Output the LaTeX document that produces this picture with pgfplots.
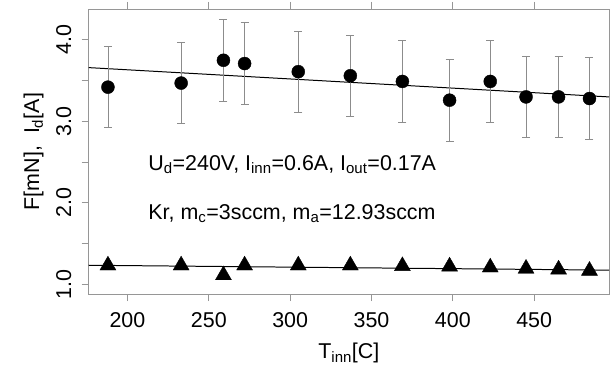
\documentclass[border=0pt]{standalone}
\usepackage{fontspec}
\setmainfont{Liberation Sans}
\usepackage{pgfplots}
\pgfplotsset{compat=1.18}
\definecolor{axgray}{RGB}{150,150,150}
\definecolor{ebgray}{RGB}{140,140,140}
\begin{document}
\begin{tikzpicture}[font=\fontsize{21.5}{25}\selectfont]
\begin{axis}[
 scale only axis, width=520bp, height=285bp,
 xmin=176.2, xmax=496, ymin=0.877, ymax=4.38,
 axis line style={axgray, line width=0.9pt},
 tick style={axgray, line width=0.9pt},
 tick align=outside, major tick length=7bp,
 xtick={200,250,...,450}, ytick={1,1.5,...,4},
 yticklabels={1.0,,2.0,,3.0,,4.0},
 yticklabel style={rotate=90, anchor=south},
 yticklabel shift=7bp,
 xticklabel shift=8bp,
 /pgf/number format/assume math mode=true,
 xlabel={T\textsubscript{inn}[C]},
 ylabel={F[mN],\ \ I\textsubscript{d}[A]},
 xlabel style={at={(axis description cs:0.5,-0.207)}, anchor=center},
 ylabel style={at={(axis description cs:-0.106,0.5)}, anchor=center},
 clip=false,
]
\addplot[black, line width=1pt] coordinates {(176.2,3.66) (496,3.30)};
\addplot[black, line width=1pt] coordinates {(176.2,1.232) (496,1.172)};
\addplot[only marks, mark=*, mark size=6.5bp, black,
  error bars/.cd, y dir=both, y explicit,
  error bar style={ebgray, line width=0.7pt},
  error mark options={ebgray, rotate=90, mark size=4bp, line width=0.7pt}]
 table[x=x, y=y, y error=e] {
x y e
188 3.42 0.5
233 3.47 0.5
259 3.75 0.5
272 3.71 0.5
305 3.61 0.5
337 3.56 0.5
369 3.49 0.5
398 3.26 0.5
423 3.49 0.5
445 3.30 0.5
465 3.30 0.5
484 3.28 0.5
};
\addplot[only marks, mark=triangle*, mark size=9.2bp, black] coordinates {
(188,1.23) (233,1.23) (259,1.11) (272,1.23) (305,1.23) (337,1.23)
(369,1.222) (398,1.217) (423,1.205) (445,1.19) (465,1.18) (484,1.165)};
\node[anchor=west] at (axis cs:210.7,2.47) {U\textsubscript{d}=240V, I\textsubscript{inn}=0.6A, I\textsubscript{out}=0.17A};
\node[anchor=west] at (axis cs:210.7,1.87) {Kr, m\textsubscript{c}=3sccm, m\textsubscript{a}=12.93sccm};
\end{axis}
\pgfresetboundingbox
\path ([xshift=-88.7bp,yshift=-71bp]current axis.south west) rectangle ([xshift=1bp,yshift=9bp]current axis.north east);
\end{tikzpicture}
\end{document}
